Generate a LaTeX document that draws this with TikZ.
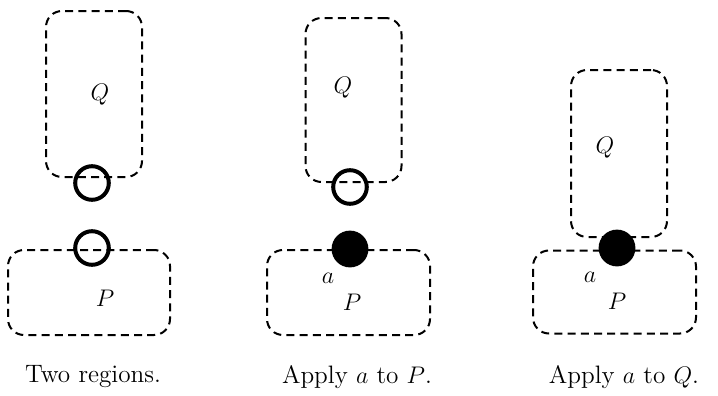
\documentclass[tikz,border=0pt]{standalone}
\usepackage{tikz}
\usetikzlibrary{positioning}

\begin{document}
\begin{tikzpicture}[
  x=0.5pt, y=-0.5pt,
  font=\fontsize{12.6}{15}\selectfont,
  region/.style={
    draw, dashed, line width=1pt, dash pattern=on 4pt off 2.6pt,
    rounded corners=8pt, inner sep=0pt
  },
  port/.style={circle, draw, line width=2pt, minimum size=16.8pt, inner sep=0pt},
  bound/.style={circle, fill=black, minimum size=18.4pt, inner sep=0pt}
]
  \useasboundingbox (0,0) rectangle (718,396);

  % two regions
  \node[region, minimum width=48pt, minimum height=83pt] (q1) at (94,94) {};
  \node[region, minimum width=81pt, minimum height=42.5pt] (p1) at (89,292.5) {};
  \node[port] (c1) at (92,183) {};
  \node[port] (c2) at (92,248) {};
  \node (lq1) at (100,95) {$Q$};
  \node (lp1) at (105,298) {$P$};
  \node (t1) at (93,377) {Two regions.};

  % apply a to P
  \node[region, minimum width=48pt, minimum height=82pt] (q2) at (353.5,100) {};
  \node[region, minimum width=81.5pt, minimum height=42.5pt] (p2) at (348.5,292.5) {};
  \node[port] (c3) at (350,187) {};
  \node[bound] (c4) at (350,249) {};
  \node (lq2) at (343,88) {$Q$};
  \node (la2) at (328,278) {$a$};
  \node (lp2) at (352,302) {$P$};
  \node (t2) at (357,377) {Apply $a$ to $P$.};

  % apply a to Q
  \node[region, minimum width=48pt, minimum height=83.5pt] (q3) at (619,153.5) {};
  \node[region, minimum width=81.5pt, minimum height=41.5pt] (p3) at (614.5,292) {};
  \node[bound] (c5) at (617,248) {};
  \node (lq3) at (605,148) {$Q$};
  \node (la3) at (590,277) {$a$};
  \node (lp3) at (617,301) {$P$};
  \node (t3) at (624,377) {Apply\ $a$\ to $Q$.};
\end{tikzpicture}
\end{document}
